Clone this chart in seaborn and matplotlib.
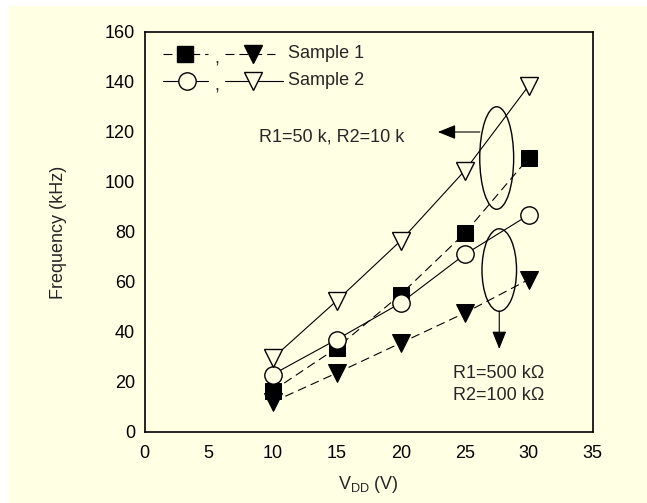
import matplotlib
matplotlib.use("Agg")
import matplotlib.pyplot as plt
import seaborn as sns
from matplotlib.patches import Ellipse, Rectangle
from matplotlib.lines import Line2D

sns.set_style("white")
plt.rcParams['font.family'] = ['Liberation Sans', 'DejaVu Sans']
plt.rcParams['mathtext.fontset'] = 'custom'
plt.rcParams['mathtext.rm'] = 'Liberation Sans'
plt.rcParams['mathtext.it'] = 'Liberation Sans'

# Data
vdd = [10, 15, 20, 25, 30]
s1_500k = [12, 23.6, 35.6, 47.6, 61]      # Sample 1, R1=500k (filled triangle)
s1_50k = [16.5, 33.6, 55, 79.5, 109.6]     # Sample 1, R1=50k (filled square)
s2_500k = [23, 37, 51.6, 71, 86.8]          # Sample 2, R1=500k (open circle)
s2_50k = [29.5, 52.5, 76.5, 104.5, 138.5]   # Sample 2, R1=50k (open triangle)

xticks = [0, 5, 10, 15, 20, 25, 30, 35]
yticks = [0, 20, 40, 60, 80, 100, 120, 140, 160]

FS = 13
BG = '#FFFFE3'
fig = plt.figure(figsize=(6.47, 5.03), dpi=100)
fig.patch.set_facecolor('white')
fig.patches.append(Rectangle((9/647, 0), 1 - 9/647, 1 - 6/503, transform=fig.transFigure,
                             facecolor=BG, edgecolor='none', zorder=-10))
ax = fig.add_axes([144.7/647, (503-432)/503, 448/647, 400/503])
ax.set_facecolor(BG)

dash = (0, (8, 4.5))
lw = 0.8

sns.lineplot(x=vdd, y=s1_50k, ax=ax, color='black', lw=lw, linestyle=dash,
             marker='s', markersize=11, markerfacecolor='black', markeredgecolor='black')
sns.lineplot(x=vdd, y=s1_500k, ax=ax, color='black', lw=lw, linestyle=dash,
             marker='v', markersize=12.5, markerfacecolor='black', markeredgecolor='black')
sns.lineplot(x=vdd, y=s2_500k, ax=ax, color='black', lw=lw, linestyle='-',
             marker='o', markersize=12.5, markerfacecolor=BG, markeredgecolor='black', markeredgewidth=1)
sns.lineplot(x=vdd, y=s2_50k, ax=ax, color='black', lw=lw, linestyle='-',
             marker='v', markersize=13, markerfacecolor=BG, markeredgecolor='black', markeredgewidth=1)

ax.set_xlim(0, 35)
ax.set_ylim(0, 160)
ax.set_xticks(xticks)
ax.set_yticks(yticks)
ax.tick_params(direction='in', length=4, width=1, color='black', labelsize=FS, colors='black')
ax.tick_params(axis='x', pad=9)
ax.tick_params(axis='y', pad=7)
for s in ax.spines.values():
    s.set_color('black')
    s.set_linewidth(1.2)

ax.set_xlabel(r'V$_{\mathrm{DD}}$ (V)', fontsize=FS, labelpad=9)
ax.set_ylabel('Frequency (kHz)', fontsize=FS, labelpad=27)

# ellipses and arrows
ax.add_patch(Ellipse((27.5, 109.6), 2.65, 41, facecolor='none', edgecolor='black', lw=1))
ax.add_patch(Ellipse((27.7, 64.8), 2.7, 33, facecolor='none', edgecolor='black', lw=1))
astyle = '-|>,head_length=0.55,head_width=0.22'
ax.annotate('', xy=(22.9, 120), xytext=(26.18, 120),
            arrowprops=dict(arrowstyle=astyle, color='black', lw=0.8, mutation_scale=20,
                            shrinkA=0, shrinkB=0))
ax.annotate('', xy=(27.7, 33.2), xytext=(27.7, 48.3),
            arrowprops=dict(arrowstyle=astyle, color='black', lw=0.8, mutation_scale=20,
                            shrinkA=0, shrinkB=0))
ax.text(8.9, 118, 'R1=50 k, R2=10 k', fontsize=FS, va='center', ha='left')
ax.text(24.1, 23.6, 'R1=500 k\u03a9', fontsize=FS, va='center', ha='left')
ax.text(24.1, 14.8, 'R2=100 k\u03a9', fontsize=FS, va='center', ha='left')

# legend (hand-drawn)
T = ax.transAxes
def seg(x0, x1, y, ls):
    ax.add_line(Line2D([x0, x1], [y, y], transform=T, color='black', lw=lw, linestyle=ls))
y1, y2 = 0.945, 0.8775
seg(0.041, 0.141, y1, dash)
ax.plot([0.090], [y1], transform=T, marker='s', ms=11, color='black', ls='none')
ax.text(0.160, y1 - 0.012, ',', transform=T, fontsize=FS, ha='center', va='center')
seg(0.179, 0.291, y1, dash)
ax.plot([0.242], [y1], transform=T, marker='v', ms=12.5, color='black', ls='none')
ax.text(0.320, y1, 'Sample 1', transform=T, fontsize=FS, ha='left', va='center')

seg(0.041, 0.141, y2, '-')
ax.plot([0.094], [y2], transform=T, marker='o', ms=12.5, mfc=BG, mec='black', mew=1, ls='none')
ax.text(0.160, y2 - 0.012, ',', transform=T, fontsize=FS, ha='center', va='center')
seg(0.179, 0.309, y2, '-')
ax.plot([0.242], [y2], transform=T, marker='v', ms=13, mfc=BG, mec='black', mew=1, ls='none')
ax.text(0.320, y2, 'Sample 2', transform=T, fontsize=FS, ha='left', va='center')

fig.savefig('out.png', dpi=100, facecolor=fig.get_facecolor())
